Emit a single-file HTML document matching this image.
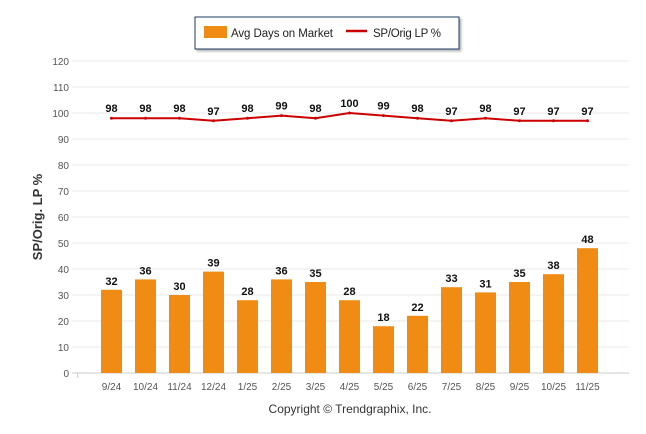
<!DOCTYPE html>
<html><head><meta charset="utf-8"><style>
body{margin:0;background:#fff;}
svg{display:block;font-family:"Liberation Sans",sans-serif;}
</style></head><body>
<svg id="chart" width="646" height="434">
<defs><filter id="sh" x="-5%" y="-10%" width="115%" height="140%"><feDropShadow dx="2" dy="2" stdDeviation="1" flood-color="#888" flood-opacity="0.6"/></filter></defs>
<g>
<rect x="195" y="17" width="264" height="32" fill="#fff" stroke="#1f3a5f" stroke-width="1" filter="url(#sh)"/>
<rect x="204" y="26" width="23" height="12" fill="#f08c14"/>
<text x="231" y="37" font-size="11.5" fill="#222" textLength="102">Avg Days on Market</text>
<line x1="346" y1="31" x2="367" y2="31" stroke="#c00" stroke-width="2.5"/>
<text x="373" y="37" font-size="11.5" fill="#222" textLength="68">SP/Orig LP %</text>
</g>
<g id="grid"></g>
<g id="bars"></g>
<g id="line"></g>
<text transform="translate(42,217) rotate(-90)" text-anchor="middle" font-size="13" font-weight="bold" fill="#333">SP/Orig. LP %</text>
<text x="350" y="413" text-anchor="middle" font-size="12" fill="#333">Copyright © Trendgraphix, Inc.</text>
</svg>
<script>
const categories=["9/24","10/24","11/24","12/24","1/25","2/25","3/25","4/25","5/25","6/25","7/25","8/25","9/25","10/25","11/25"];
const daysOnMarket=[32,36,30,39,28,36,35,28,18,22,33,31,35,38,48];
const spOrigLp=[98,98,98,97,98,99,98,100,99,98,97,98,97,97,97];
const yTicks=[0,10,20,30,40,50,60,70,80,90,100,110,120];
const NS="http://www.w3.org/2000/svg";
const y=v=>373-v*2.6;
const x=i=>111.5+i*34;
function mk(tag,attrs,parent,text){const e=document.createElementNS(NS,tag);for(const k in attrs)e.setAttribute(k,attrs[k]);if(text!==undefined)e.textContent=text;parent.appendChild(e);return e;}
const grid=document.getElementById('grid'),bars=document.getElementById('bars'),line=document.getElementById('line');
yTicks.forEach(t=>{
 const l=mk('line',{x1:72,x2:629,y1:y(t),y2:y(t),stroke:t===0?'#ccc':'#e8e8e8'},grid);
 
 
 const tx=mk('text',{x:69,y:y(t)+4,'text-anchor':'end','font-size':10,fill:'#555'},grid,t);
 
 
});
const tk=mk('line',{x1:77.7,x2:77.7,y1:373,y2:378,stroke:'#ccc'},grid);


categories.forEach((c,i)=>{
 const tx=mk('text',{x:x(i),y:390,'text-anchor':'middle','font-size':10,fill:'#555'},grid,c);
 
 
 const v=daysOnMarket[i];
 const r=mk('rect',{x:x(i)-10.5,y:y(v),width:21,height:373-y(v),fill:'#f08c14'},bars);
 
 
 const lb=mk('text',{x:x(i),y:y(v)-5,'text-anchor':'middle','font-size':11,'font-weight':'bold',fill:'#111'},bars,v);
 
 
});
const pts=spOrigLp.map((v,i)=>x(i)+','+y(v)).join(' ');
const pl=mk('polyline',{points:pts,fill:'none',stroke:'#c00',"stroke-width":2},line);


spOrigLp.forEach((v,i)=>{
 const p=mk('circle',{cx:x(i),cy:y(v),r:1.5,fill:'#c00'},line);
 
 
 const lb=mk('text',{x:x(i),y:y(v)-6,'text-anchor':'middle','font-size':11,'font-weight':'bold',fill:'#111'},line,v);
 
 
});
</script>
</body></html>
